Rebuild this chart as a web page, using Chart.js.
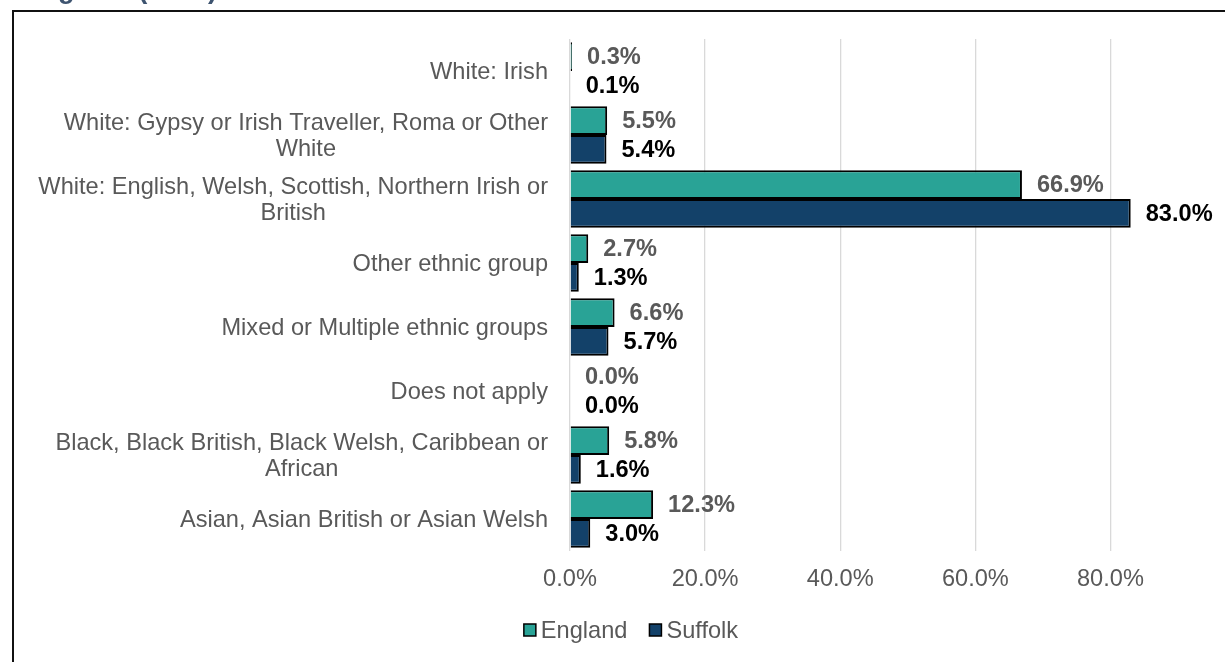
<!DOCTYPE html>
<html>
<head>
<meta charset="utf-8">
<script src="https://cdn.jsdelivr.net/npm/chart.js@4.4.1/dist/chart.umd.min.js"></script>
<style>
  html, body { margin: 0; padding: 0; background: #ffffff; overflow: hidden; }
  #wrap { position: relative; width: 1225px; height: 662px; }
</style>
</head>
<body>
<div id="wrap"><canvas id="chart"></canvas></div>
<script>
// Ethnic group categories (top to bottom), multi-line labels as arrays
const categories = [
  ['White: Irish'],
  ['White: Gypsy or Irish Traveller, Roma or Other', 'White'],
  ['White: English, Welsh, Scottish, Northern Irish or', 'British'],
  ['Other ethnic group'],
  ['Mixed or Multiple ethnic groups'],
  ['Does not apply'],
  ['Black, Black British, Black Welsh, Caribbean or', 'African'],
  ['Asian, Asian British or Asian Welsh']
];
const seriesNames = ['England', 'Suffolk'];
const england = [0.3, 5.5, 66.9, 2.7, 6.6, 0.0, 5.8, 12.3];
const suffolk = [0.1, 5.4, 83.0, 1.3, 5.7, 0.0, 1.6, 3.0];
const axisMin = 0;
const axisMax = 90;
const axisStep = 20;
const titleText = 'England (2021)';

const FONT = "'Liberation Sans', Arial, Helvetica, sans-serif";
const FS = 23.6;
const barColors = ['#29A396', '#134169'];
const labelColors = ['#595959', '#000000'];

// Page frame, clipped heading, category labels, value labels and legend
const decor = {
  id: 'decor',
  beforeDraw(chart) {
    const ctx = chart.ctx;
    ctx.save();
    ctx.fillStyle = '#ffffff';
    ctx.fillRect(0, 0, chart.width, chart.height);
    // heading sits above the frame, mostly outside the page
    ctx.fillStyle = '#3E5470';
    ctx.font = 'bold 27.3px ' + FONT;
    ctx.textAlign = 'left';
    ctx.textBaseline = 'alphabetic';
    ctx.fillText(titleText, 23, -2.5);
    // frame
    ctx.fillStyle = '#111111';
    ctx.fillRect(12, 10, chart.width, 2);
    ctx.fillRect(12, 10, 2, chart.height);
    ctx.restore();
  },
  afterDraw(chart) {
    const ctx = chart.ctx;
    const yScale = chart.scales.y;
    ctx.save();
    // category labels: block right-aligned, lines centred inside the block
    ctx.font = FS + 'px ' + FONT;
    ctx.fillStyle = '#595959';
    ctx.textBaseline = 'middle';
    ctx.textAlign = 'center';
    const rightEdge = 548;
    const lh = 26;
    categories.forEach((lines, i) => {
      const cy = yScale.getPixelForTick(i) + 1;
      const w = Math.max(...lines.map(t => ctx.measureText(t).width));
      const cx = rightEdge - w / 2;
      const y0 = cy - (lines.length - 1) * lh / 2;
      lines.forEach((t, k) => ctx.fillText(t, cx, y0 + k * lh));
    });
    // value labels at bar ends
    ctx.font = 'bold ' + FS + 'px ' + FONT;
    ctx.textAlign = 'left';
    chart.data.datasets.forEach((ds, di) => {
      const meta = chart.getDatasetMeta(di);
      ctx.fillStyle = labelColors[di];
      meta.data.forEach((bar, j) => {
        ctx.fillText(ds.data[j].toFixed(1) + '%', bar.x + 15, bar.y + 1);
      });
    });
    // legend
    ctx.font = FS + 'px ' + FONT;
    const box = 12, gapText = 5, gapItem = 22;
    const widths = chart.data.datasets.map(ds => ctx.measureText(ds.label).width);
    let total = 0;
    widths.forEach((w, i) => { total += box + gapText + w + (i ? gapItem : 0); });
    let x = 631 - total / 2;
    const ly = 630;
    chart.data.datasets.forEach((ds, i) => {
      ctx.fillStyle = barColors[i];
      ctx.fillRect(x, ly - box / 2, box, box);
      ctx.strokeStyle = '#000000';
      ctx.lineWidth = 1.5;
      ctx.strokeRect(x, ly - box / 2, box, box);
      ctx.fillStyle = '#595959';
      ctx.textAlign = 'left';
      ctx.textBaseline = 'middle';
      ctx.fillText(ds.label, x + box + gapText, ly + 1);
      x += box + gapText + widths[i] + gapItem;
    });
    ctx.restore();
  }
};

new Chart(document.getElementById('chart'), {
  type: 'bar',
  data: {
    labels: categories,
    datasets: [
      { label: seriesNames[0], data: england, backgroundColor: barColors[0],
        borderColor: '#000000', borderWidth: 2 },
      { label: seriesNames[1], data: suffolk, backgroundColor: barColors[1],
        borderColor: '#000000', borderWidth: 2 }
    ]
  },
  options: {
    indexAxis: 'y',
    responsive: true,
    maintainAspectRatio: false,
    animation: false,
    events: [],
    layout: { padding: { left: 570, right: 47, top: 39, bottom: 68 } },
    datasets: { bar: { categoryPercentage: 0.9, barPercentage: 1.0 } },
    scales: {
      x: {
        min: axisMin,
        max: axisMax,
        afterFit(s) { s.height = 43; },
        border: { display: false },
        grid: { color: '#D9D9D9', lineWidth: 1.3, drawTicks: false },
        ticks: {
          stepSize: axisStep,
          includeBounds: false,
          padding: 14,
          color: '#595959',
          font: { family: FONT, size: FS },
          callback: v => v.toFixed(1) + '%'
        }
      },
      y: { display: false }
    },
    plugins: {
      legend: { display: false },
      tooltip: { enabled: false }
    }
  },
  plugins: [decor]
});
</script>
</body>
</html>
